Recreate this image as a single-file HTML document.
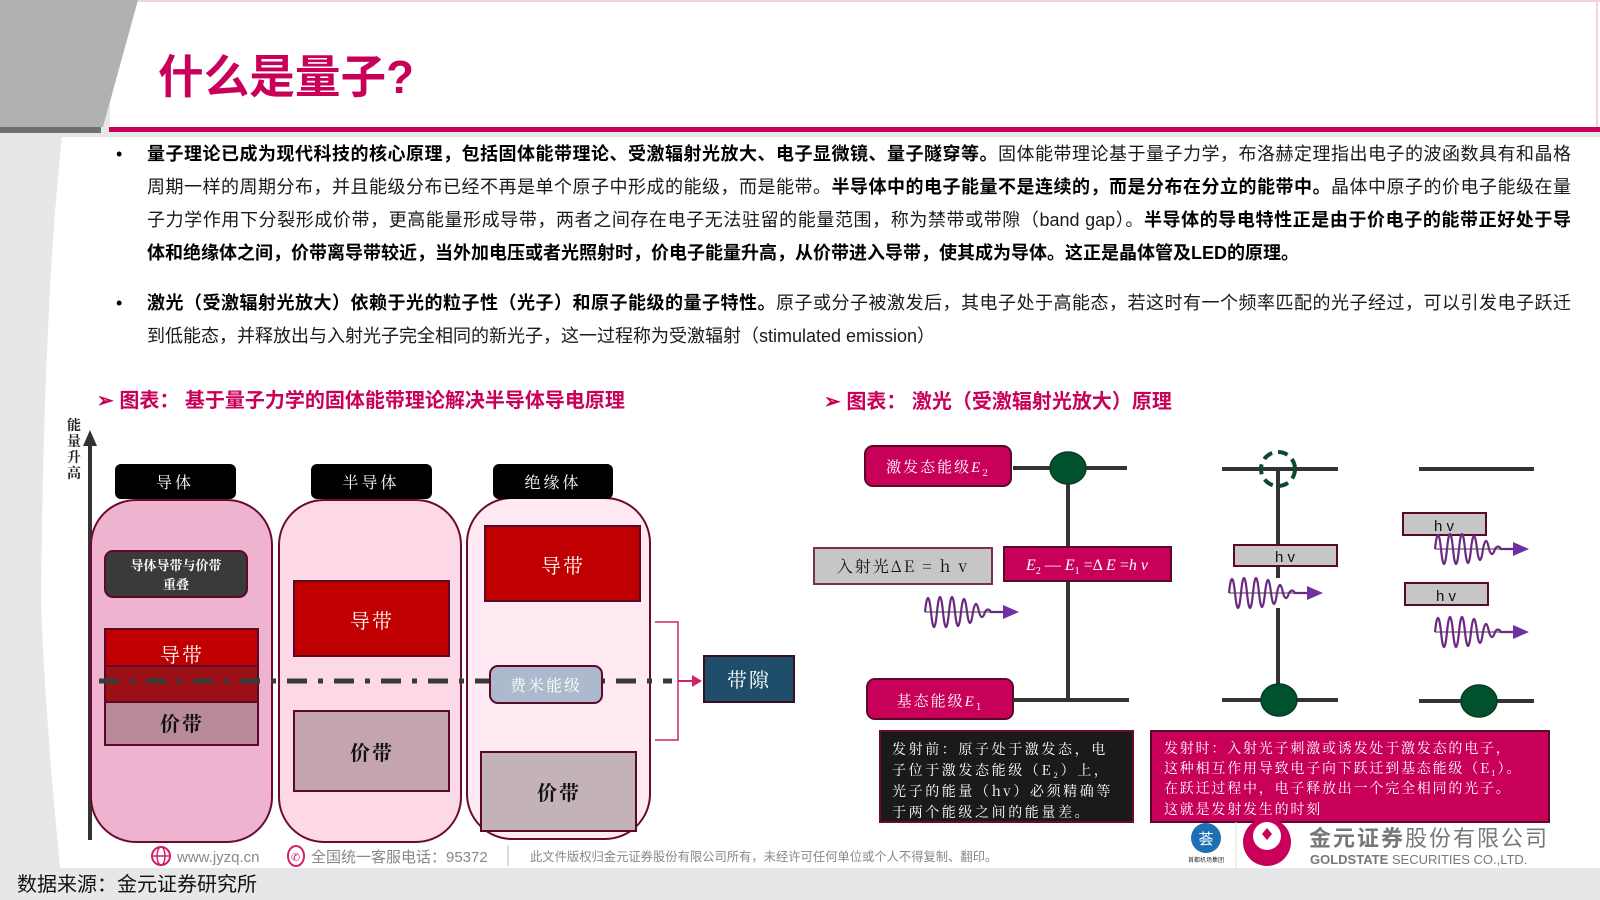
<!DOCTYPE html>
<html><head><meta charset="utf-8">
<style>
html,body{margin:0;padding:0;}
body{width:1600px;height:900px;position:relative;overflow:hidden;background:#e6e7e8;font-family:"Liberation Sans","Noto Sans CJK SC",sans-serif;}
svg{position:absolute;left:0;top:0;}
.p{position:absolute;left:147px;width:1424px;font-size:18px;color:#1a1a1a;line-height:33px;height:33px;white-space:nowrap;}
.j{text-align:justify;text-align-last:justify;white-space:normal;}
b{font-weight:700;color:#000;}
.dot{position:absolute;left:116px;font-size:18px;line-height:33px;}
</style></head><body>
<svg width="1600" height="900" viewBox="0 0 1600 900" xmlns="http://www.w3.org/2000/svg">
<defs>
<g id="wave">
 <line x1="0" y1="0" x2="70" y2="0" stroke="#9a9a9a" stroke-width="2"/>
 <path d="M0,0 Q3,-28 6,0 Q9,30 12,0 Q15,-30 18,0 Q21,30 24,0 Q27,-30 30,0 Q33,28 36,0 Q39,-26 42,0 Q45,22 48,0 Q51,-16 54,0 Q57,10 60,0 Q63,-5 66,0 L80,0" fill="none" stroke="#6b2a80" stroke-width="2.2"/>
 <polygon points="78,-7 94,0 78,7" fill="#7030a0"/>
</g>
</defs>
<path d="M62,137 L1600,137 L1600,868 L60,868 Q44,700 41,600 Q44,300 62,137 Z" fill="#ffffff"/>
<rect x="110" y="0" width="1490" height="130" fill="#fff"/>
<polygon points="0,0 138,0 103,127 0,127" fill="#b1b1b1"/>
<rect x="0" y="127" width="101" height="6" fill="#707070"/>
<line x1="138" y1="1" x2="1600" y2="1" stroke="#f4d0de" stroke-width="2"/>
<line x1="1597" y1="0" x2="1597" y2="130" stroke="#f4d0de" stroke-width="2"/>
<rect x="109" y="127" width="1491" height="5" fill="#c8005a"/>
<text x="158" y="93" font-size="46" font-weight="700" fill="#c8005a" textLength="256" lengthAdjust="spacingAndGlyphs">什么是量子?</text>

<text x="97" y="407" font-size="20" font-weight="700" fill="#c8005a">➢ 图表：  基于量子力学的固体能带理论解决半导体导电原理</text>
<text x="824" y="408" font-size="20" font-weight="700" fill="#c8005a">➢ 图表：  激光（受激辐射光放大）原理</text>

<g font-family="Noto Serif CJK SC,serif">
<line x1="90" y1="442" x2="90" y2="840" stroke="#333" stroke-width="4"/>
<polygon points="83,446 90,430 97,446" fill="#333"/>
<text font-size="14" font-weight="700" fill="#222" text-anchor="middle"><tspan x="74" y="430">能</tspan><tspan x="74" y="446">量</tspan><tspan x="74" y="462">升</tspan><tspan x="74" y="478">高</tspan></text>

<rect x="91" y="500" width="181" height="342" rx="45" fill="#edb3cf" stroke="#6a0a30" stroke-width="2"/>
<rect x="279" y="500" width="182" height="342" rx="45" fill="#fdd9e8" stroke="#6a0a30" stroke-width="2"/>
<rect x="467" y="498" width="183" height="341" rx="45" fill="#ffe9f2" stroke="#6a0a30" stroke-width="2"/>

<rect x="115" y="464" width="121" height="35" rx="6" fill="#000"/>
<rect x="311" y="464" width="121" height="35" rx="6" fill="#000"/>
<rect x="493" y="464" width="120" height="35" rx="6" fill="#000"/>
<text x="175" y="488" font-size="16" fill="#fff" text-anchor="middle" letter-spacing="3">导体</text>
<text x="371" y="488" font-size="16" fill="#fff" text-anchor="middle" letter-spacing="3">半导体</text>
<text x="553" y="488" font-size="16" fill="#fff" text-anchor="middle" letter-spacing="3">绝缘体</text>

<rect x="105" y="551" width="142" height="46" rx="8" fill="#3a3a3a" stroke="#5a0a28" stroke-width="2"/>
<text x="176" y="570" font-size="13" font-weight="700" fill="#fff" text-anchor="middle">导体导带与价带</text>
<text x="176" y="589" font-size="13" font-weight="700" fill="#fff" text-anchor="middle">重叠</text>

<rect x="105" y="629" width="153" height="37" fill="#c00000" stroke="#5a0a28" stroke-width="2"/>
<rect x="105" y="666" width="153" height="36" fill="#9b1015" stroke="#5a0a28" stroke-width="2"/>
<rect x="105" y="702" width="153" height="43" fill="#b88a9a" stroke="#5a0a28" stroke-width="2"/>
<text x="182" y="662" font-size="20" fill="#fff" text-anchor="middle" letter-spacing="2">导带</text>
<text x="182" y="731" font-size="20" font-weight="700" fill="#111" text-anchor="middle" letter-spacing="2">价带</text>

<rect x="294" y="581" width="155" height="75" fill="#c00000" stroke="#5a0a28" stroke-width="2"/>
<text x="372" y="628" font-size="20" fill="#fff" text-anchor="middle" letter-spacing="2">导带</text>
<rect x="294" y="711" width="155" height="80" fill="#c4a4ae" stroke="#5a0a28" stroke-width="2"/>
<text x="372" y="760" font-size="20" font-weight="700" fill="#111" text-anchor="middle" letter-spacing="2">价带</text>

<rect x="485" y="526" width="155" height="75" fill="#c00000" stroke="#5a0a28" stroke-width="2"/>
<text x="563" y="573" font-size="20" fill="#fff" text-anchor="middle" letter-spacing="2">导带</text>
<rect x="481" y="752" width="155" height="79" fill="#c3b3b8" stroke="#5a0a28" stroke-width="2"/>
<text x="559" y="800" font-size="20" font-weight="700" fill="#111" text-anchor="middle" letter-spacing="2">价带</text>

<line x1="99" y1="681" x2="672" y2="681" stroke="#3a3a3a" stroke-width="5" stroke-dasharray="20,11,5,11"/>
<rect x="490" y="666" width="112" height="37" rx="8" fill="#adb9cc" stroke="#5a0a28" stroke-width="2"/>
<text x="546" y="691" font-size="16" fill="#fff" text-anchor="middle" letter-spacing="2">费米能级</text>

<polyline points="655,622 678,622 678,740 655,740" fill="none" stroke="#d0206a" stroke-width="1.5"/>
<line x1="678" y1="681" x2="694" y2="681" stroke="#d0206a" stroke-width="2"/>
<polygon points="692,675 702,681 692,687" fill="#d0206a"/>
<rect x="704" y="656" width="90" height="46" fill="#1f4e6b" stroke="#3a1020" stroke-width="2"/>
<text x="749" y="687" font-size="20" fill="#fff" text-anchor="middle" letter-spacing="2">带隙</text>
</g>

<g font-family="Noto Serif CJK SC,serif">
<rect x="865" y="446" width="146" height="40" rx="8" fill="#c8005a" stroke="#5a0a28" stroke-width="2"/>
<text x="938" y="472" font-size="15" fill="#fff" text-anchor="middle" letter-spacing="2">激发态能级<tspan font-style="italic" font-family="Liberation Serif,serif">E</tspan><tspan font-size="10" dy="4">2</tspan></text>
<line x1="1013" y1="468" x2="1127" y2="468" stroke="#333" stroke-width="4"/>
<line x1="1068" y1="468" x2="1068" y2="700" stroke="#333" stroke-width="4"/>
<ellipse cx="1068" cy="468" rx="18" ry="16" fill="#00522e" stroke="#0a3a20" stroke-width="1.5"/>
<rect x="1004" y="547" width="167" height="34" fill="#c8005a" stroke="#5a0a28" stroke-width="2"/>
<text x="1087" y="570" font-size="16" fill="#fff" text-anchor="middle" font-family="Liberation Serif,serif" font-style="italic">E<tspan font-size="10" dy="4" font-style="normal">2</tspan><tspan dy="-4" font-style="normal"> — </tspan>E<tspan font-size="10" dy="4" font-style="normal">1</tspan><tspan dy="-4" font-style="normal"> =Δ </tspan>E<tspan font-style="normal"> =</tspan>h v</text>
<rect x="814" y="548" width="178" height="36" fill="#c6c6c6" stroke="#7a3050" stroke-width="2"/>
<text x="903" y="572" font-size="16" fill="#111" text-anchor="middle" letter-spacing="2">入射光ΔE = h v</text>
<use href="#wave" x="925" y="612"/>
<rect x="867" y="679" width="146" height="40" rx="8" fill="#c8005a" stroke="#5a0a28" stroke-width="2"/>
<text x="940" y="706" font-size="15" fill="#fff" text-anchor="middle" letter-spacing="2">基态能级<tspan font-style="italic" font-family="Liberation Serif,serif">E</tspan><tspan font-size="10" dy="4">1</tspan></text>
<line x1="1013" y1="700" x2="1129" y2="700" stroke="#333" stroke-width="4"/>

<line x1="1222" y1="469" x2="1338" y2="469" stroke="#333" stroke-width="4"/>
<line x1="1278" y1="469" x2="1278" y2="578" stroke="#333" stroke-width="4"/>
<line x1="1278" y1="608" x2="1278" y2="700" stroke="#333" stroke-width="4"/>
<circle cx="1278" cy="469" r="17" fill="none" stroke="#0a4a2a" stroke-width="4" stroke-dasharray="10,6"/>
<rect x="1234" y="545" width="103" height="21" fill="#c6c6c6" stroke="#5a0a28" stroke-width="2"/>
<text x="1285" y="562" font-size="15" fill="#111" text-anchor="middle" font-family="Liberation Sans,sans-serif">h v</text>
<use href="#wave" x="1229" y="593"/>
<line x1="1222" y1="700" x2="1338" y2="700" stroke="#333" stroke-width="4"/>
<ellipse cx="1279" cy="700" rx="18" ry="16" fill="#00522e" stroke="#0a3a20" stroke-width="1.5"/>

<line x1="1419" y1="469" x2="1534" y2="469" stroke="#333" stroke-width="4"/>
<rect x="1403" y="513" width="83" height="22" fill="#c6c6c6" stroke="#5a0a28" stroke-width="2"/>
<text x="1444" y="531" font-size="15" fill="#111" text-anchor="middle" font-family="Liberation Sans,sans-serif">h v</text>
<use href="#wave" x="1435" y="549"/>
<rect x="1405" y="583" width="83" height="22" fill="#c6c6c6" stroke="#5a0a28" stroke-width="2"/>
<text x="1446" y="601" font-size="15" fill="#111" text-anchor="middle" font-family="Liberation Sans,sans-serif">h v</text>
<use href="#wave" x="1435" y="632"/>
<line x1="1419" y1="701" x2="1534" y2="701" stroke="#333" stroke-width="4"/>
<ellipse cx="1479" cy="701" rx="18" ry="16" fill="#00522e" stroke="#0a3a20" stroke-width="1.5"/>

<rect x="880" y="731" width="253" height="91" fill="#1a1a1a" stroke="#6a0a30" stroke-width="2"/>
<text font-size="14" fill="#fff" letter-spacing="2.6"><tspan x="892" y="754">发射前：原子处于激发态，电</tspan><tspan x="892" y="775">子位于激发态能级（E₂）上，</tspan><tspan x="892" y="796">光子的能量（hv）必须精确等</tspan><tspan x="892" y="817">于两个能级之间的能量差。</tspan></text>
<rect x="1151" y="731" width="398" height="91" fill="#c8005a" stroke="#5a0a28" stroke-width="2"/>
<text font-size="14" fill="#fff" letter-spacing="1.8"><tspan x="1164" y="753">发射时：入射光子刺激或诱发处于激发态的电子，</tspan><tspan x="1164" y="773">这种相互作用导致电子向下跃迁到基态能级（E₁）。</tspan><tspan x="1164" y="793">在跃迁过程中，电子释放出一个完全相同的光子。</tspan><tspan x="1164" y="814">这就是发射发生的时刻</tspan></text>
</g>

<circle cx="161" cy="856" r="9" fill="none" stroke="#d0206a" stroke-width="2"/>
<ellipse cx="161" cy="856" rx="4" ry="9" fill="none" stroke="#d0206a" stroke-width="1.5"/>
<line x1="152" y1="856" x2="170" y2="856" stroke="#d0206a" stroke-width="1.5"/>
<text x="177" y="862" font-size="15" fill="#888">www.jyzq.cn</text>
<ellipse cx="296" cy="856" rx="8" ry="10" fill="none" stroke="#d0206a" stroke-width="2"/>
<text x="291" y="861" font-size="11" fill="#d0206a">✆</text>
<text x="311" y="862" font-size="15" fill="#888">全国统一客服电话：95372</text>
<line x1="508" y1="845" x2="508" y2="866" stroke="#bbb" stroke-width="1"/>
<text x="530" y="861" font-size="12.3" fill="#888">此文件版权归金元证券股份有限公司所有，未经许可任何单位或个人不得复制、翻印。</text>

<circle cx="1206" cy="838" r="15" fill="#1f6fb5"/>
<text x="1206" y="844" font-size="15" fill="#fff" text-anchor="middle">荟</text>
<text x="1206" y="862" font-size="6" fill="#333" text-anchor="middle">首都机场集团</text>
<line x1="1236" y1="822" x2="1236" y2="868" stroke="#ddd"/>
<circle cx="1267" cy="842" r="24" fill="#c8005a"/>
<circle cx="1267" cy="836" r="14" fill="#fff"/>
<polygon points="1267,828 1272,834 1267,840 1262,834" fill="#c8005a"/>
<text x="1309" y="846" font-size="22" font-weight="700" fill="#777" letter-spacing="2">金元证券<tspan font-weight="400">股份有限公司</tspan></text>
<text x="1310" y="864" font-size="13" font-weight="700" fill="#777">GOLDSTATE<tspan font-weight="400"> SECURITIES  CO.,LTD.</tspan></text>

<text x="17" y="891" font-size="20" fill="#111">数据来源：金元证券研究所</text>
</svg>

<div class="dot" style="top:138px">•</div>
<div class="p j" style="top:138px"><b>量子理论已成为现代科技的核心原理，包括固体能带理论、受激辐射光放大、电子显微镜、量子隧穿等。</b>固体能带理论基于量子力学，布洛赫定理指出电子的波函数具有和晶格</div>
<div class="p j" style="top:171px">周期一样的周期分布，并且能级分布已经不再是单个原子中形成的能级，而是能带。<b>半导体中的电子能量不是连续的，而是分布在分立的能带中。</b>晶体中原子的价电子能级在量</div>
<div class="p j" style="top:204px">子力学作用下分裂形成价带，更高能量形成导带，两者之间存在电子无法驻留的能量范围，称为禁带或带隙（band gap）。<b>半导体的导电特性正是由于价电子的能带正好处于导</b></div>
<div class="p" style="top:237px"><b>体和绝缘体之间，价带离导带较近，当外加电压或者光照射时，价电子能量升高，从价带进入导带，使其成为导体。这正是晶体管及LED的原理。</b></div>
<div class="dot" style="top:287px">•</div>
<div class="p j" style="top:287px"><b>激光（受激辐射光放大）依赖于光的粒子性（光子）和原子能级的量子特性。</b>原子或分子被激发后，其电子处于高能态，若这时有一个频率匹配的光子经过，可以引发电子跃迁</div>
<div class="p" style="top:320px">到低能态，并释放出与入射光子完全相同的新光子，这一过程称为受激辐射（stimulated emission）</div>
</body></html>
